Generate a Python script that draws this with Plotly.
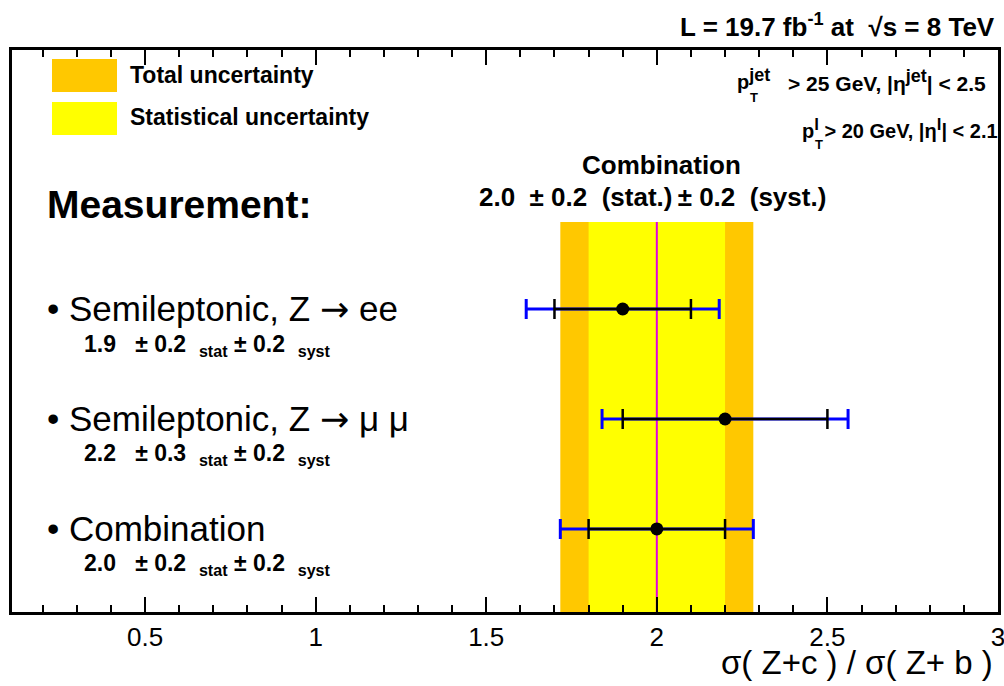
import math
import plotly.graph_objects as go

# Measurements of sigma(Z+c)/sigma(Z+b)
channels = ["Semileptonic, Z \u2192 ee", "Semileptonic, Z \u2192 \u03bc \u03bc", "Combination"]
values = [1.9, 2.2, 2.0]
stat_err = [0.2, 0.3, 0.2]
syst_err = [0.2, 0.2, 0.2]
rows = [3, 2, 1]

# Combined result shown as vertical bands
comb_value = 2.0
comb_stat = 0.2
comb_syst = 0.2

x_ticks = [0.5, 1, 1.5, 2, 2.5, 3]

total_err = [math.hypot(s, y) for s, y in zip(stat_err, syst_err)]
comb_total = math.hypot(comb_stat, comb_syst)

W, H = 1004, 686
ML, MR, MT, MB = 12, 6, 50, 74
PW, PH = W - ML - MR, H - MT - MB
Y_RANGE = [0.245, 5.355]
BAND_TOP = 3.79

ORANGE = "#FFC800"
YELLOW = "#FFFF00"
FONT = "Liberation Sans, Arial, Helvetica, sans-serif"
NB = "\u00a0"
ARROW = "<span style='font-family:DejaVu Sans'>\u2192</span>"


def px(x):
    return (x - ML) / PW


def py(y):
    return (MT + PH - y) / PH


def sup(s, size=17):
    return f"<sup><span style='font-size:{size}px'>{s}</span></sup>"


fig = go.Figure()

# total uncertainty (blue) drawn first, statistical (black) on top
fig.add_trace(go.Scatter(
    x=values, y=rows, mode="markers",
    marker=dict(size=1, color="rgba(0,0,0,0)"),
    error_x=dict(type="data", array=total_err, color="#0000FF", thickness=3, width=10),
    showlegend=False, hoverinfo="skip",
))
fig.add_trace(go.Scatter(
    x=values, y=rows, mode="markers",
    marker=dict(size=13, color="black"),
    error_x=dict(type="data", array=stat_err, color="black", thickness=2.5, width=10),
    showlegend=False,
))

shapes = [
    dict(type="rect", xref="x", yref="y", layer="below", line=dict(width=0),
         x0=comb_value - comb_total, x1=comb_value + comb_total,
         y0=Y_RANGE[0], y1=BAND_TOP, fillcolor=ORANGE),
    dict(type="rect", xref="x", yref="y", layer="below", line=dict(width=0),
         x0=comb_value - comb_stat, x1=comb_value + comb_stat,
         y0=Y_RANGE[0], y1=BAND_TOP, fillcolor=YELLOW),
    dict(type="line", xref="x", yref="y", layer="below",
         x0=comb_value, x1=comb_value, y0=Y_RANGE[0], y1=BAND_TOP,
         line=dict(color="#E000E0", width=2)),
    # legend swatches
    dict(type="rect", xref="paper", yref="paper", line=dict(width=0),
         x0=px(52), x1=px(117), y0=py(92), y1=py(59), fillcolor=ORANGE),
    dict(type="rect", xref="paper", yref="paper", line=dict(width=0),
         x0=px(52), x1=px(117), y0=py(135), y1=py(102), fillcolor=YELLOW),
]

ann = []


def text(x, y, s, size, bold=False, xanchor="left", color="black"):
    ann.append(dict(
        x=px(x), y=py(y), xref="paper", yref="paper", showarrow=False,
        text=f"<b>{s}</b>" if bold else s, xanchor=xanchor, yanchor="middle",
        font=dict(family=FONT, size=size, color=color),
    ))


text(997, 25, f"L = 19.7 fb<sup>-1</sup> at {NB}\u221as = 8 TeV", 26, bold=True, xanchor="right")
text(128, 75, "Total uncertainty", 23, bold=True)
text(128, 117, "Statistical uncertainty", 23, bold=True)

# kinematic selection
text(735, 79, f"p{sup('jet', 18)}", 20, bold=True)
text(748, 97, "T", 13, bold=True)
text(988, 80, f"> 25 GeV, |\u03b7{sup('jet', 18)}| < 2.5", 21, bold=True, xanchor="right")
text(800, 128, f"p{sup('l')} > 20 GeV, |\u03b7{sup('l')}| < 2.1", 20, bold=True)
text(813, 145, "T", 13, bold=True)

text(661, 165, "Combination", 26, bold=True, xanchor="center")
text(652, 197,
     f"{comb_value:.1f}{NB} \u00b1 {comb_stat:.1f}{NB} (stat.)\u2009\u00b1 {comb_syst:.1f}{NB} (syst.)",
     26, bold=True, xanchor="center")

text(45, 204, "Measurement:", 39, bold=True)

for name, v, s, y, r in zip(channels, values, stat_err, syst_err, rows):
    row_px = MT + PH - (r - Y_RANGE[0]) / (Y_RANGE[1] - Y_RANGE[0]) * PH
    label = name.replace("\u2192", ARROW)
    text(45, row_px, f"\u2022 {label}", 35)
    text(82, row_px + 36,
         f"{v:.1f}{NB}{NB} \u00b1 {s:.1f}{NB} <sub>stat</sub> \u00b1 {y:.1f}{NB} <sub>syst</sub>",
         23, bold=True)

text(995, 662, "\u03c3( Z+c ) / \u03c3( Z+ b )", 33, xanchor="right")

fig.update_layout(
    width=W, height=H,
    margin=dict(l=ML, r=MR, t=MT, b=MB, pad=0, autoexpand=False),
    paper_bgcolor="white", plot_bgcolor="white",
    showlegend=False,
    shapes=shapes, annotations=ann,
    xaxis=dict(
        range=[0.11, 3.0], tickvals=x_ticks, ticktext=[f"{t:g}" for t in x_ticks],
        ticks="inside", ticklen=15, tickwidth=1.5, tickcolor="black",
        minor=dict(ticks="inside", dtick=0.1, tick0=0, ticklen=7, tickwidth=1.5, tickcolor="black"),
        showline=True, linewidth=3, linecolor="black", mirror="allticks",
        showgrid=False, zeroline=False, automargin=False,
        ticklabeloverflow="allow",
        tickfont=dict(family=FONT, size=26, color="black"),
    ),
    yaxis=dict(
        range=Y_RANGE, showticklabels=False, ticks="",
        showline=True, linewidth=3, linecolor="black", mirror=True,
        showgrid=False, zeroline=False, automargin=False,
    ),
)

fig.write_html("out.html")
